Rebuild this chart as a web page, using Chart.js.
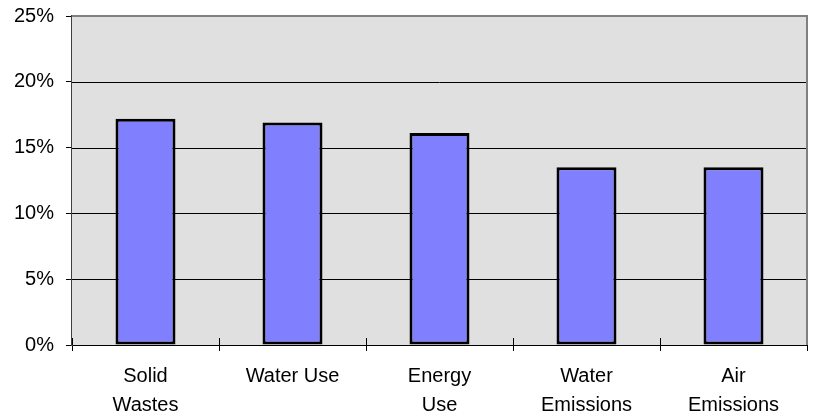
<!DOCTYPE html>
<html>
<head>
<meta charset="utf-8">
<script src="https://cdn.jsdelivr.net/npm/chart.js@4/dist/chart.umd.min.js"></script>
<style>
  html, body { margin: 0; padding: 0; background: #ffffff; }
  #wrap { width: 817px; height: 416px; position: relative; }
</style>
</head>
<body>
<div id="wrap"><canvas id="c" width="817" height="416"></canvas></div>
<script>
// Share of total impact by category (percent)
const categories = [["Solid", "Wastes"], ["Water Use"], ["Energy", "Use"], ["Water", "Emissions"], ["Air", "Emissions"]];
const shares = [17.2, 16.9, 16.1, 13.5, 13.5];
const yTicks = [0, 5, 10, 15, 20, 25];

const FONT = { family: "'Liberation Sans', Arial, sans-serif", size: 20 };

// Grey plot background plus the grey top/right frame
const plotFrame = {
  id: 'plotFrame',
  beforeDatasetsDraw(chart) {
    const { ctx, chartArea: a } = chart;
    ctx.save();
    ctx.fillStyle = '#E0E0E0';
    ctx.fillRect(a.left, a.top, a.right - a.left, a.bottom - a.top);
    ctx.restore();
    // horizontal grid on top of the fill
    const y = chart.scales.y;
    ctx.save();
    ctx.strokeStyle = '#000000';
    ctx.lineWidth = 1;
    y.ticks.forEach(t => {
      if (t.value === 0 || t.value === 25) return;
      const py = Math.round(y.getPixelForValue(t.value)) + 0.5;
      ctx.beginPath();
      ctx.moveTo(a.left, py);
      ctx.lineTo(a.right, py);
      ctx.stroke();
    });
    ctx.restore();
  },
  afterDraw(chart) {
    const { ctx, chartArea: a } = chart;
    const x = chart.scales.x;
    ctx.save();
    // category separator marks crossing the axis
    ctx.strokeStyle = '#000000';
    ctx.lineWidth = 1;
    for (let i = 0; i <= categories.length; i++) {
      const px = Math.round(x.getPixelForValue(i - 0.5)) + 0.5;
      ctx.beginPath();
      ctx.moveTo(px, a.bottom - 7);
      ctx.lineTo(px, a.bottom);
      ctx.stroke();
    }
    ctx.strokeStyle = '#808080';
    ctx.lineWidth = 2;
    ctx.beginPath();
    ctx.moveTo(a.left, a.top);
    ctx.lineTo(a.right, a.top);
    ctx.lineTo(a.right, a.bottom);
    ctx.stroke();
    ctx.restore();
  }
};

new Chart(document.getElementById('c'), {
  type: 'bar',
  data: {
    labels: categories,
    datasets: [{
      data: shares,
      backgroundColor: '#8080FF',
      borderColor: '#000000',
      borderWidth: 3,
      borderSkipped: false,
      barPercentage: 1,
      categoryPercentage: 0.408
    }]
  },
  options: {
    responsive: false,
    animation: false,
    devicePixelRatio: 1,
    layout: { padding: { top: 16, right: 10, left: 0, bottom: 0 } },
    plugins: { legend: { display: false }, tooltip: { enabled: false } },
    scales: {
      x: {
        offset: true,
        grid: { display: true, drawOnChartArea: false, drawTicks: true, tickLength: 6, color: '#000000', lineWidth: 1, offset: true },
        border: { display: true, color: '#000000', width: 1 },
        ticks: { color: '#000000', font: { ...FONT, lineHeight: 1.45 }, padding: 11, maxRotation: 0, autoSkip: false },
        afterFit(scale) { scale.height = 71; scale.paddingLeft = 0; scale.paddingRight = 0; }
      },
      y: {
        min: 0,
        max: 25,
        afterBuildTicks(scale) { scale.ticks = yTicks.map(v => ({ value: v })); },
        grid: { display: true, drawOnChartArea: false, drawTicks: true, tickLength: 6, color: '#000000', lineWidth: 1 },
        border: { display: true, color: '#404040', width: 2 },
        ticks: { color: '#000000', font: FONT, padding: 12, callback: v => v + '%' },
        afterFit(scale) { scale.width = 72; scale.paddingTop = 0; scale.paddingBottom = 0; }
      }
    }
  },
  plugins: [plotFrame]
});
</script>
</body>
</html>
